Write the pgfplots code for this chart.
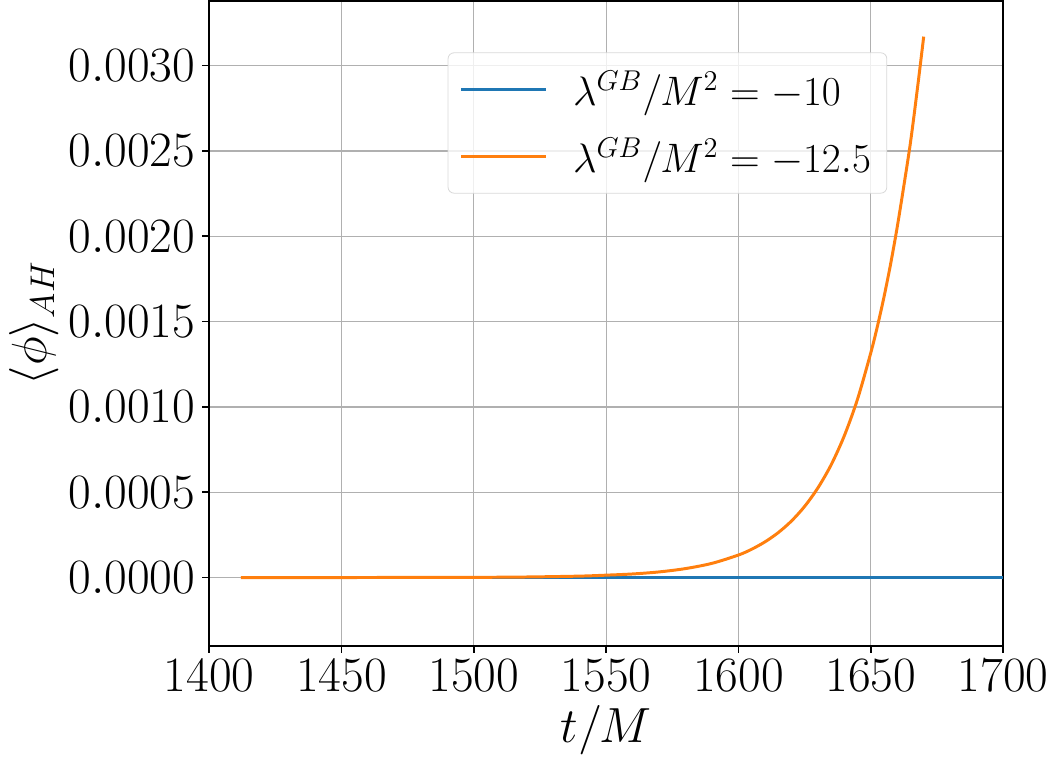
\documentclass[border={1.5pt 0pt 0pt 0pt}]{standalone}
\usepackage{pgfplots}
\pgfplotsset{compat=1.18}
\definecolor{mplblue}{HTML}{1F77B4}
\definecolor{mplorange}{HTML}{FF7F0E}
\definecolor{mplgrid}{HTML}{B0B0B0}

\begin{document}
\begin{tikzpicture}
\begin{axis}[
  width=400pt, height=325pt, scale only axis,
  xmin=1400, xmax=1700, ymin=-0.0004, ymax=0.00338,
  xtick={1400,1450,...,1700},
  ytick={0,0.0005,0.001,0.0015,0.002,0.0025,0.003},
  scaled y ticks=false,
  yticklabel style={/pgf/number format/.cd, fixed, fixed zerofill, precision=4},
  xticklabel style={/pgf/number format/.cd, set thousands separator={}},
  tick label style={font=\fontsize{24}{28}\selectfont},
  label style={font=\fontsize{24.5}{29}\selectfont},
  xlabel={$t/M$}, ylabel={$\langle\phi\rangle_{AH}$},
  ylabel style={yshift=-2pt},
  tick align=outside, major tick length=3.5pt,
  tick style={black, line width=0.8pt},
  xtick pos=bottom, ytick pos=left,
  axis line style={line width=0.8pt},
  grid=major, grid style={mplgrid, line width=0.6pt},
  legend style={at={(0.854,0.92)}, anchor=north east,
    font=\fontsize{21.5}{26}\selectfont, rounded corners=3pt,
    draw=black!15, fill=white, fill opacity=0.8, text opacity=1,
    row sep=11pt, inner xsep=6pt, inner ysep=7pt},
  legend cell align=left,
  legend image code/.code={\draw[#1, line width=1.5pt] (0pt,0pt) -- (42.5pt,0pt);},
]
\addplot[mplblue, line width=1.5pt] coordinates {
  (1412,0) (1700,0)
};
\addlegendentry{\hspace{11pt}$\lambda^{GB}/M^2=-10$}
\addplot[mplorange, line width=1.5pt, smooth] coordinates {
  (1412,0.0) (1450,0.00000013) (1500,0.0000013) (1520,0.0000033)
  (1540,0.0000084) (1550,0.000014) (1560,0.000021) (1570,0.000033)
  (1580,0.0000526) (1590,0.0000833) (1600,0.000132) (1605,0.000166)
  (1610,0.000209) (1615,0.000263) (1620,0.000331) (1625,0.000417)
  (1630,0.000525) (1635,0.00066) (1640,0.000831) (1645,0.001046)
  (1650,0.001317) (1652.5,0.001472) (1655,0.001645) (1657.5,0.001838)
  (1660,0.002055) (1662.5,0.002296) (1665,0.00255) (1667.5,0.00285)
  (1670,0.00317)
};
\addlegendentry{\hspace{11pt}$\lambda^{GB}/M^2=-12.5$}
\end{axis}
\end{tikzpicture}
\end{document}
